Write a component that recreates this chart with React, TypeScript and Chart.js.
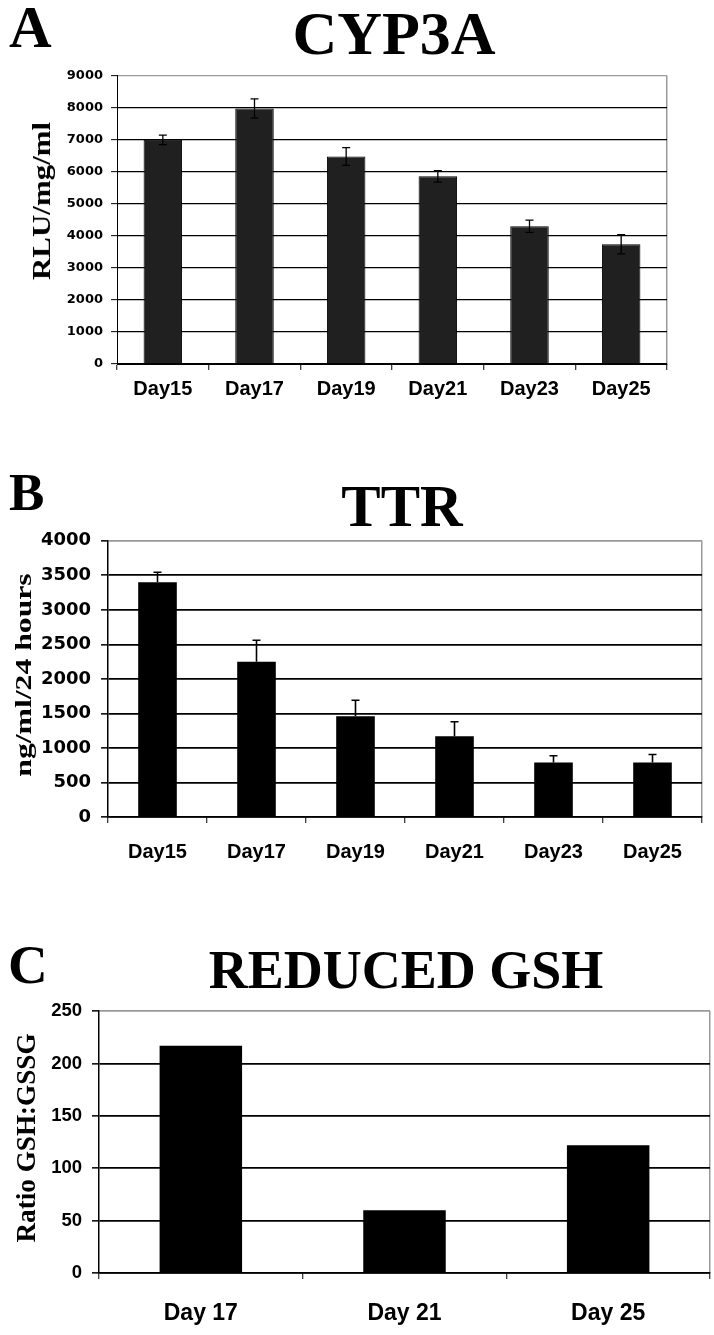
import React, { useEffect, useRef } from "react";
import { Chart, registerables } from "chart.js";

Chart.register(...registerables);

// ---------- data ----------
const cypDays = ["Day15", "Day17", "Day19", "Day21", "Day23", "Day25"];
const cypValues = [7000, 7980, 6480, 5860, 4300, 3740];
const cypErrors = [150, 300, 280, 180, 190, 300];
const cypMax = 9000;
const cypStep = 1000;

const ttrDays = ["Day15", "Day17", "Day19", "Day21", "Day23", "Day25"];
const ttrValues = [3400, 2250, 1460, 1170, 790, 790];
const ttrErrors = [145, 310, 230, 210, 96, 115];
const ttrMax = 4000;
const ttrStep = 500;

const gshDays = ["Day 17", "Day 21", "Day 25"];
const gshValues = [217, 60, 122];
const gshMax = 250;
const gshStep = 50;

const GRAY = "#9a9a9a";

const errorBarPlugin = {
  id: "errorBars",
  afterDatasetsDraw(chart: any, _args: any, opts: any) {
    if (!opts || !opts.errors) return;
    const meta = chart.getDatasetMeta(0);
    const y = chart.scales.y;
    const values = chart.data.datasets[0].data;
    const ctx = chart.ctx;
    ctx.save();
    ctx.strokeStyle = opts.color || "#000";
    ctx.lineWidth = opts.lineWidth || 1;
    const hw = opts.capWidth / 2;
    meta.data.forEach((bar: any, i: number) => {
      const v = values[i];
      const e = opts.errors[i];
      const top = y.getPixelForValue(v + e);
      const bottom = opts.both ? y.getPixelForValue(v - e) : y.getPixelForValue(v);
      ctx.beginPath();
      ctx.moveTo(bar.x, top);
      ctx.lineTo(bar.x, bottom);
      ctx.moveTo(bar.x - hw, top);
      ctx.lineTo(bar.x + hw, top);
      if (opts.both) {
        ctx.moveTo(bar.x - hw, bottom);
        ctx.lineTo(bar.x + hw, bottom);
      }
      ctx.stroke();
    });
    ctx.restore();
  },
};

type PanelCfg = {
  canvasTop: number;
  canvasHeight: number;
  plotLeft: number;
  plotRight: number;
  plotTop: number;
  plotBottom: number;
  labels: string[];
  values: number[];
  max: number;
  step: number;
  barColor: string;
  barBorder: number;
  barPct: number;
  yFont: any;
  yPad: number;
  yTickLen: number;
  xFont: any;
  xPad: number;
  gridWidth: number;
  axisWidth: number;
  errors?: any;
};

function BarPanel({ cfg }: { cfg: PanelCfg }) {
  const ref = useRef<HTMLCanvasElement | null>(null);
  useEffect(() => {
    if (!ref.current) return;
    const W = 714;
    const chart = new Chart(ref.current, {
      type: "bar",
      data: {
        labels: cfg.labels,
        datasets: [
          {
            data: cfg.values,
            backgroundColor: cfg.barColor,
            borderColor: "#000",
            borderWidth: cfg.barBorder,
            barPercentage: cfg.barPct,
            categoryPercentage: 1,
          },
        ],
      },
      options: {
        responsive: false,
        animation: false,
        layout: {
          padding: {
            top: cfg.plotTop - cfg.canvasTop,
            right: W - cfg.plotRight,
            left: 0,
            bottom: 0,
          },
        },
        plugins: {
          legend: { display: false },
          tooltip: { enabled: false },
          title: { display: false },
          errorBars: cfg.errors || false,
        } as any,
        scales: {
          x: {
            offset: true,
            grid: {
              offset: true,
              drawOnChartArea: true,
              color: (c: any) => (c.type === "tick" ? "rgba(0,0,0,0)" : GRAY),
              lineWidth: 1.5,
              tickColor: "#000",
              tickLength: 6,
              tickWidth: 1,
            },
            border: { color: "#000", width: cfg.axisWidth },
            ticks: { font: cfg.xFont, color: "#000", padding: cfg.xPad, maxRotation: 0, autoSkip: false },
            afterFit: (s: any) => {
              s.height = cfg.canvasTop + cfg.canvasHeight - cfg.plotBottom;
            },
          },
          y: {
            min: 0,
            max: cfg.max,
            ticks: {
              stepSize: cfg.step,
              font: cfg.yFont,
              color: "#000",
              padding: cfg.yPad,
              callback: (v: any) => String(v),
            },
            grid: {
              color: (c: any) => (c.tick && c.tick.value === cfg.max ? GRAY : "#000"),
              lineWidth: cfg.gridWidth,
              tickColor: "#000",
              tickLength: cfg.yTickLen,
              tickWidth: cfg.axisWidth,
            },
            border: { color: "#000", width: cfg.axisWidth },
            afterFit: (s: any) => {
              s.width = cfg.plotLeft;
            },
          },
        },
      } as any,
      plugins: [errorBarPlugin],
    });
    return () => chart.destroy();
  }, []);
  return (
    <canvas
      ref={ref}
      width={714}
      height={cfg.canvasHeight}
      style={{ position: "absolute", left: 0, top: cfg.canvasTop, display: "block" }}
    />
  );
}

const panelA: PanelCfg = {
  canvasTop: 60,
  canvasHeight: 350,
  plotLeft: 117,
  plotRight: 667,
  plotTop: 71,
  plotBottom: 364,
  labels: cypDays,
  values: cypValues,
  max: cypMax,
  step: cypStep,
  barColor: "#202020",
  barBorder: 1,
  barPct: 0.42,
  yFont: { family: "'DejaVu Sans'", weight: "bold", size: 13 },
  yPad: 8,
  yTickLen: 6,
  xFont: { family: "'Liberation Sans'", weight: "bold", size: 20 },
  xPad: 7,
  gridWidth: 1.3,
  axisWidth: 1,
  errors: { errors: cypErrors, both: true, capWidth: 8, lineWidth: 1.3 },
};

const panelB: PanelCfg = {
  canvasTop: 520,
  canvasHeight: 360,
  plotLeft: 108,
  plotRight: 702,
  plotTop: 538,
  plotBottom: 817,
  labels: ttrDays,
  values: ttrValues,
  max: ttrMax,
  step: ttrStep,
  barColor: "#000",
  barBorder: 0,
  barPct: 0.39,
  yFont: { family: "'DejaVu Sans'", weight: "bold", size: 18 },
  yPad: 10,
  yTickLen: 7,
  xFont: { family: "'Liberation Sans'", weight: "bold", size: 20 },
  xPad: 17,
  gridWidth: 1.7,
  axisWidth: 1.5,
  errors: { errors: ttrErrors, both: false, capWidth: 8, lineWidth: 1.6 },
};

const panelC: PanelCfg = {
  canvasTop: 990,
  canvasHeight: 345,
  plotLeft: 99,
  plotRight: 710,
  plotTop: 1004,
  plotBottom: 1273,
  labels: gshDays,
  values: gshValues,
  max: gshMax,
  step: gshStep,
  barColor: "#000",
  barBorder: 0,
  barPct: 0.405,
  yFont: { family: "'Liberation Sans'", weight: "bold", size: 18.5 },
  yPad: 10,
  yTickLen: 7,
  xFont: { family: "'Liberation Sans'", weight: "bold", size: 23 },
  xPad: 21,
  gridWidth: 1.7,
  axisWidth: 1.5,
};

const serif = "'Liberation Serif', 'Times New Roman', serif";

function Label({ text, left, capTop, size, center }: { text: string; left: number; capTop: number; size: number; center?: boolean }) {
  return (
    <div
      style={{
        position: "absolute",
        left,
        top: capTop - 0.1755 * size,
        fontFamily: serif,
        fontWeight: "bold",
        fontSize: size,
        lineHeight: 1,
        whiteSpace: "nowrap",
        color: "#000",
        transform: center ? "translateX(-50%)" : undefined,
      }}
    >
      {text}
    </div>
  );
}

function VTitle({ text, cx, cy, size, stretch }: { text: string; cx: number; cy: number; size: number; stretch: number }) {
  return (
    <div
      style={{
        position: "absolute",
        left: cx,
        top: cy,
        fontFamily: serif,
        fontWeight: "bold",
        fontSize: size,
        lineHeight: 1,
        whiteSpace: "nowrap",
        color: "#000",
        transform: `translate(-50%, -50%) rotate(-90deg) scaleX(${stretch})`,
      }}
    >
      {text}
    </div>
  );
}

export default function App() {
  return (
    <div style={{ position: "absolute", left: 0, top: 0, width: 714, height: 1335, background: "#fff", overflow: "hidden" }}>
      <BarPanel cfg={panelA} />
      <BarPanel cfg={panelB} />
      <BarPanel cfg={panelC} />
      <Label text="A" left={9} capTop={8} size={59} />
      <Label text="CYP3A" left={394} capTop={13} size={62} center />
      <Label text="B" left={9} capTop={475} size={53} />
      <Label text="TTR" left={402} capTop={487} size={59} center />
      <Label text="C" left={8} capTop={947} size={55} />
      <Label text="REDUCED GSH" left={406} capTop={952} size={54} center />
      <VTitle text="RLU/mg/ml" cx={42} cy={201} size={26} stretch={1.19} />
      <VTitle text="ng/ml/24 hours" cx={23} cy={675} size={24} stretch={1.32} />
      <VTitle text="Ratio GSH:GSSG" cx={26} cy={1138} size={28} stretch={0.97} />
    </div>
  );
}
